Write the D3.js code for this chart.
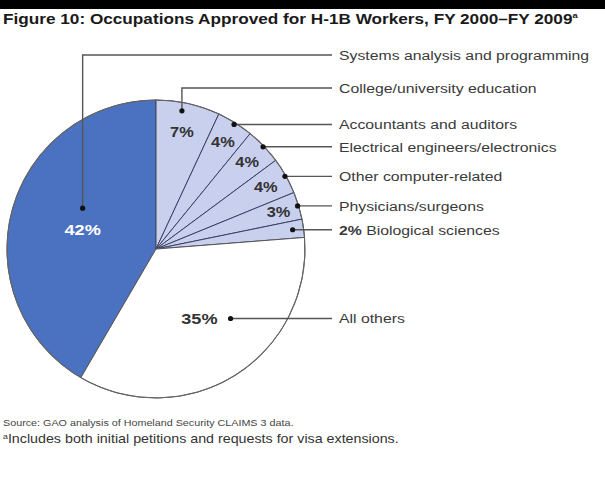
<!DOCTYPE html>
<html>
<head>
<meta charset="utf-8">
<script src="https://cdn.jsdelivr.net/npm/d3@7"></script>
<style>
  body { margin: 0; background: #fff; }
  text { font-family: "Liberation Sans", Arial, sans-serif; }
</style>
</head>
<body>
<svg id="chart" width="605" height="480"></svg>
<script>
const canvasWidth = 605,
    canvasHeight = 480,
    sx = 1.17   // the source figure is slightly wide-set

// data
const categories = [
    'Systems analysis and programming',
    'College/university education',
    'Accountants and auditors',
    'Electrical engineers/electronics',
    'Other computer-related',
    'Physicians/surgeons',
    'Biological sciences',
    'All others'
]
const shares = [42, 7, 4, 4, 4, 3, 2, 35]
const pctLabels = shares.map(v => v + '%')

// styles / layout
const sliceFill = ['#4a72c1', '#c9d0ee', '#c9d0ee', '#c9d0ee', '#c9d0ee', '#c9d0ee', '#c9d0ee', '#ffffff']
const center = { x: 156, y: 249 },
    radius = 149,
    textX = 339,
    lineEnd = 332

// how each slice gets its label and leader
const layout = [
    { labelR: 76, dot: 'above', textY: 55, pctColor: '#fff', pctSize: 15.5 },
    { labelR: 120, dot: 'above', textY: 88 },
    { labelR: 126, dotR: 147 },
    { labelR: 126, dotR: 148 },
    { labelR: 126, dotR: 148 },
    { labelR: 128, dotR: 148 },
    { labelR: null, dotR: 138, inline: true },
    { labelR: 82, dot: 'right', pctSize: 15.5 }
]

const svg = d3.select('#chart')

svg.append('rect')
    .attr('x', 0).attr('y', 0)
    .attr('width', canvasWidth).attr('height', 9)
    .attr('fill', '#000')

function stretchText(sel, x, y) {
    return sel.attr('transform', `translate(${x},${y}) scale(${sx},1)`)
}

// title
var title = svg.append('text')
    .attr('font-size', 14.7)
    .attr('font-weight', 'bold')
    .attr('fill', '#1a1a1a')
stretchText(title, 3, 24)
title.append('tspan').text('Figure 10: Occupations Approved for H-1B Workers, FY 2000\u2013FY 2009')
title.append('tspan').attr('font-size', 8).attr('dy', -6).text('a')

const total = d3.sum(shares)
const start = -shares[0] / total * 2 * Math.PI

const pie = d3.pie()
    .sort(null)
    .startAngle(start)
    .endAngle(start + 2 * Math.PI)

const arcs = pie(shares)

const arc = d3.arc().innerRadius(0).outerRadius(radius)

const g = svg.append('g')
    .attr('transform', `translate(${center.x},${center.y})`)

g.selectAll('path.slice')
    .data(arcs)
    .enter().append('path')
    .attr('class', 'slice')
    .attr('d', arc)
    .attr('fill', (d, i) => sliceFill[i])
    .attr('stroke', (d, i) => (i >= 1 && i <= 6) ? '#3b4163' : '#555')
    .attr('stroke-width', 1)

// outer rim
g.append('circle')
    .attr('r', radius)
    .attr('fill', 'none')
    .attr('stroke', '#666')
    .attr('stroke-width', 1.1)

const polar = (r, a) => [r * Math.sin(a), -r * Math.cos(a)]
const mid = (d) => (d.startAngle + d.endAngle) / 2

const leaders = svg.append('g')
    .attr('transform', `translate(${center.x},${center.y})`)

arcs.forEach(function(d, i) {
    var l = layout[i],
        a = mid(d),
        lp = l.labelR ? polar(l.labelR, a) : null,
        dot, pts, ty

    if (l.dot === 'above') {
        dot = [lp[0], lp[1] - 21]
        ty = l.textY - center.y
        pts = [dot, [dot[0], ty], [lineEnd - center.x, ty]]
    } else if (l.dot === 'right') {
        dot = [lp[0] + 31, lp[1]]
        ty = dot[1]
        pts = [dot, [lineEnd - center.x, ty]]
    } else {
        dot = polar(l.dotR, a)
        ty = dot[1]
        pts = [dot, [lineEnd - center.x, ty]]
    }

    leaders.append('path')
        .attr('d', d3.line()(pts))
        .attr('fill', 'none')
        .attr('stroke', '#555')
        .attr('stroke-width', 1.4)

    leaders.append('circle')
        .attr('cx', dot[0]).attr('cy', dot[1])
        .attr('r', 2.6)
        .attr('fill', '#111')

    if (lp) {
        var pct = leaders.append('text')
            .attr('text-anchor', l.dot === 'right' ? 'end' : 'middle')
            .attr('dy', '0.36em')
            .attr('font-size', l.pctSize || 14)
            .attr('font-weight', 'bold')
            .attr('fill', l.pctColor || '#333')
            .text(pctLabels[i])
        stretchText(pct, l.dot === 'right' ? lp[0] + 18 : lp[0], lp[1])
    }

    var label = leaders.append('text')
        .attr('dy', '0.36em')
        .attr('font-size', 13.5)
        .attr('fill', '#3a3a3a')
    stretchText(label, textX - center.x, ty)
    if (l.inline) {
        label.append('tspan').attr('font-weight', 'bold').text(pctLabels[i] + ' ')
    }
    label.append('tspan').text(categories[i])
})

// notes
var src = svg.append('text')
    .attr('font-size', 9.2)
    .attr('fill', '#444')
    .text('Source: GAO analysis of Homeland Security CLAIMS 3 data.')
stretchText(src, 3, 426)

var note = svg.append('text')
    .attr('font-size', 12.2)
    .attr('fill', '#333')
stretchText(note, 3, 443)
note.append('tspan').attr('font-size', 7.5).attr('dy', -4).text('a')
note.append('tspan').attr('dy', 4).text('Includes both initial petitions and requests for visa extensions.')
</script>
</body>
</html>
